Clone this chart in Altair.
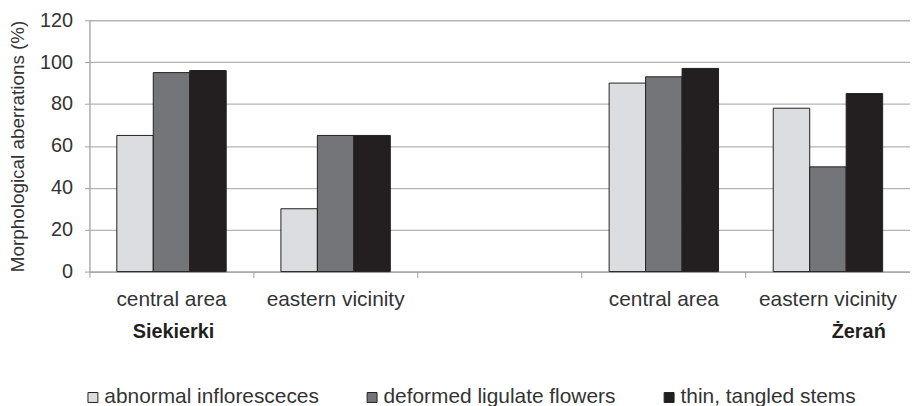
import altair as alt
import pandas as pd

# ---- data ----
slots = ["S_central", "S_eastern", "gap", "Z_central", "Z_eastern"]
slot_labels = ["central area", "eastern vicinity", "", "central area", "eastern vicinity"]
series = ["abnormal infloresceces", "deformed ligulate flowers", "thin, tangled stems"]
colors = ["#dcdde0", "#747578", "#231f20"]

abnormal = [65, 30, 90, 78]
deformed = [95, 65, 93, 50]
thin = [96, 65, 97, 85]
data_slots = ["S_central", "S_eastern", "Z_central", "Z_eastern"]

group_names = ["Siekierki", "Żerań"]
group_slots = ["S_central", "Z_eastern"]

rows = []
for i, s in enumerate(data_slots):
    for name, vals in zip(series, [abnormal, deformed, thin]):
        rows.append({"slot": s, "series": name, "value": vals[i]})
df = pd.DataFrame(rows)
gdf = pd.DataFrame({"slot": group_slots, "name": group_names})

FONT = "Liberation Sans"
TXT = "#333333"

label_expr = "''"
for s, l in zip(reversed(slots), reversed(slot_labels)):
    label_expr = f"datum.value === '{s}' ? '{l}' : ({label_expr})"

W = 826
H = 253

xscale = alt.Scale(domain=slots, paddingInner=0, paddingOuter=0)

bars = alt.Chart(df).mark_bar(stroke="#231f20", strokeWidth=1).encode(
    x=alt.X("slot:N", scale=xscale, sort=slots,
            axis=alt.Axis(title=None, labelExpr=label_expr, bandPosition=0,
                          labelAngle=0, labelFont=FONT,
                          labelFontSize=21, labelColor=TXT, labelPadding=11,
                          tickSize=6, tickColor="#a0a0a0", domainColor="#a0a0a0",
                          domainWidth=1.3, grid=False)),
    xOffset=alt.XOffset("series:N", sort=series,
                        scale=alt.Scale(paddingInner=0, paddingOuter=0.75)),
    y=alt.Y("value:Q", scale=alt.Scale(domain=[0, 120]),
            axis=alt.Axis(title="Morphological aberrations (%)", values=[0, 20, 40, 60, 80, 100, 120],
                          titleFont=FONT, titleFontSize=19, titleFontWeight="normal",
                          titleColor=TXT, titlePadding=12,
                          labelFont=FONT, labelFontSize=20, labelColor=TXT, labelPadding=12,
                          tickSize=5, tickColor="#a0a0a0", domainColor="#a0a0a0",
                          domainWidth=1.3, gridColor="#b3b3b3", gridWidth=1.3)),
    color=alt.Color("series:N", sort=series,
                    scale=alt.Scale(domain=series, range=colors),
                    legend=alt.Legend(title=None, orient="none", direction="horizontal",
                                      legendX=-7, legendY=369,
                                      symbolType="square", symbolSize=100,
                                      symbolStrokeColor="#231f20", symbolStrokeWidth=1,
                                      labelFont=FONT, labelFontSize=21, labelColor=TXT,
                                      labelLimit=400,
                                      labelOffset=1, columnPadding=43, padding=0)),
)

g1 = alt.Chart(gdf).transform_filter(alt.datum.name == group_names[0]).mark_text(
    font=FONT, fontSize=20, fontWeight="bold", color="#231f20", baseline="middle", dx=2
).encode(x=alt.X("slot:N", scale=xscale, sort=slots), y=alt.value(314), text="name:N")

g2 = alt.Chart(gdf).transform_filter(alt.datum.name == group_names[1]).mark_text(
    font=FONT, fontSize=20, fontWeight="bold", color="#231f20", baseline="middle", dx=31
).encode(x=alt.X("slot:N", scale=xscale, sort=slots), y=alt.value(314), text="name:N")

chart = alt.layer(bars, g1, g2).properties(
    width=W, height=H,
    padding={"left": 0, "top": 1, "right": 0, "bottom": 0},
).configure_view(strokeWidth=0)

chart.save("out.html", embed_options={"renderer": "svg", "actions": False})
